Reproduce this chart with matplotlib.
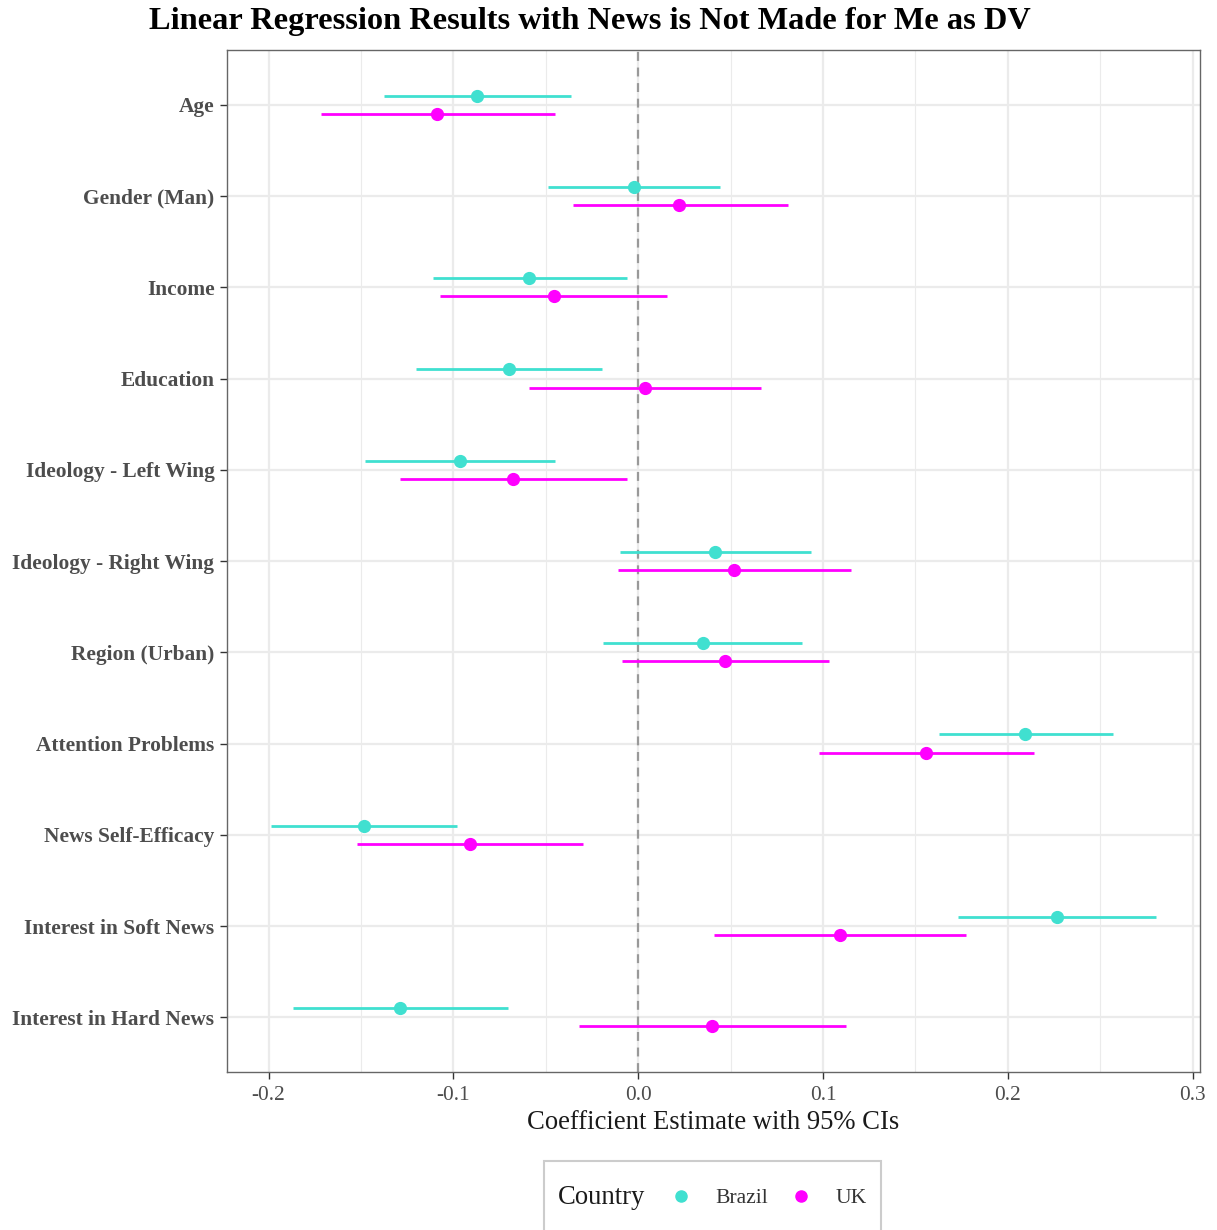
import matplotlib
matplotlib.use("Agg")
import matplotlib.pyplot as plt
from matplotlib.lines import Line2D
from matplotlib.patches import Rectangle
import numpy as np

plt.rcParams['font.family'] = ['Liberation Serif', 'DejaVu Serif']
plt.rcParams['axes.unicode_minus'] = False

categories = ["Age", "Gender (Man)", "Income", "Education", "Ideology - Left Wing",
              "Ideology - Right Wing", "Region (Urban)", "Attention Problems",
              "News Self-Efficacy", "Interest in Soft News", "Interest in Hard News"]

brazil_est = [-0.087, -0.0025, -0.059, -0.070, -0.0966, 0.0415, 0.0353, 0.2095, -0.1486, 0.2266, -0.1287]
brazil_lo = [-0.1377, -0.049, -0.1112, -0.1204, -0.148, -0.0099, -0.0188, 0.1625, -0.1989, 0.173, -0.1869]
brazil_hi = [-0.0364, 0.0445, -0.0063, -0.0195, -0.0449, 0.0935, 0.0886, 0.2568, -0.0978, 0.2802, -0.0703]

uk_est = [-0.1086, 0.0223, -0.0458, 0.0038, -0.0676, 0.052, 0.0472, 0.156, -0.0908, 0.1094, 0.040]
uk_lo = [-0.1716, -0.0355, -0.1072, -0.0591, -0.1289, -0.0107, -0.0089, 0.0976, -0.1521, 0.0409, -0.0321]
uk_hi = [-0.0452, 0.0813, 0.0158, 0.0666, -0.0059, 0.1153, 0.1034, 0.2142, -0.0296, 0.1776, 0.1122]

countries = ["Brazil", "UK"]
colors = {"Brazil": "#40E0D0", "UK": "#FF00FF"}

W, H = 1217, 1230
fig = plt.figure(figsize=(W / 100, H / 100), dpi=100)
ax = fig.add_axes([227 / W, 1 - 1072 / H, (1200 - 227) / W, (1072 - 50) / H])

n = len(categories)
ypos = np.arange(n, 0, -1)  # Age at top
offset = 0.1

series = {
    "Brazil": (brazil_est, brazil_lo, brazil_hi, +offset),
    "UK": (uk_est, uk_lo, uk_hi, -offset),
}

ax.set_xlim(-0.2225, 0.304)
ax.set_ylim(0.4, n + 0.6)
ax.set_xticks([-0.2, -0.1, 0.0, 0.1, 0.2, 0.3])
ax.set_xticklabels(["-0.2", "-0.1", "0.0", "0.1", "0.2", "0.3"])
ax.set_xticks([-0.15, -0.05, 0.05, 0.15, 0.25], minor=True)
ax.set_yticks(ypos)
ax.set_yticklabels(categories)
ax.grid(True, which='major', color='#ebebeb', linewidth=1.6, zorder=0)
ax.grid(True, which='minor', axis='x', color='#ebebeb', linewidth=0.8, zorder=0)
ax.set_axisbelow(True)

ax.axvline(0, color='#999999', linestyle=(0, (4, 3)), linewidth=1.6, zorder=1)

for c in countries:
    est, lo, hi, off = series[c]
    y = ypos + off
    ax.hlines(y, lo, hi, color=colors[c], linewidth=2.0, zorder=2)
    ax.plot(est, y, 'o', color=colors[c], markersize=8.5, zorder=3)

for s in ax.spines.values():
    s.set_color('#666666')
    s.set_linewidth(1.0)

ax.tick_params(axis='x', which='major', length=5, width=1.0, color='#333333',
               labelsize=15.4, labelcolor='#4D4D4D', pad=5)
ax.tick_params(axis='x', which='minor', length=0)
ax.tick_params(axis='y', which='major', length=5, width=1.0, color='#333333',
               labelsize=15.4, labelcolor='#4D4D4D', pad=4)
for lab in ax.get_yticklabels():
    lab.set_fontweight('bold')

ax.set_xlabel("Coefficient Estimate with 95% CIs", fontsize=19.2, labelpad=4, color='#1a1a1a')

fig.text(590 / W, 1 - 22 / H, "Linear Regression Results with News is Not Made for Me as DV",
         ha='center', va='center', fontsize=23.3, fontweight='bold')

# legend
fig.patches.append(Rectangle((544 / W, 1 - 1232 / H), (881 - 544) / W, (1232 - 1161) / H,
                             transform=fig.transFigure, facecolor='white',
                             edgecolor='#cccccc', linewidth=1.5, zorder=0))
fig.text(558 / W, 1 - 1198 / H, "Country", ha='left', va='center', fontsize=19.2, color='#1a1a1a')
handles = [Line2D([], [], linestyle='none', marker='o', markersize=8, color=colors[c]) for c in countries]
fig.legend(handles, countries, loc='center left', bbox_to_anchor=(657 / W, 1 - 1198 / H),
           ncol=2, frameon=False, fontsize=15.6, handlelength=1.2, handletextpad=1.0,
           columnspacing=0.92, labelcolor='#333333', borderpad=0)

fig.savefig("out.png", dpi=100)
